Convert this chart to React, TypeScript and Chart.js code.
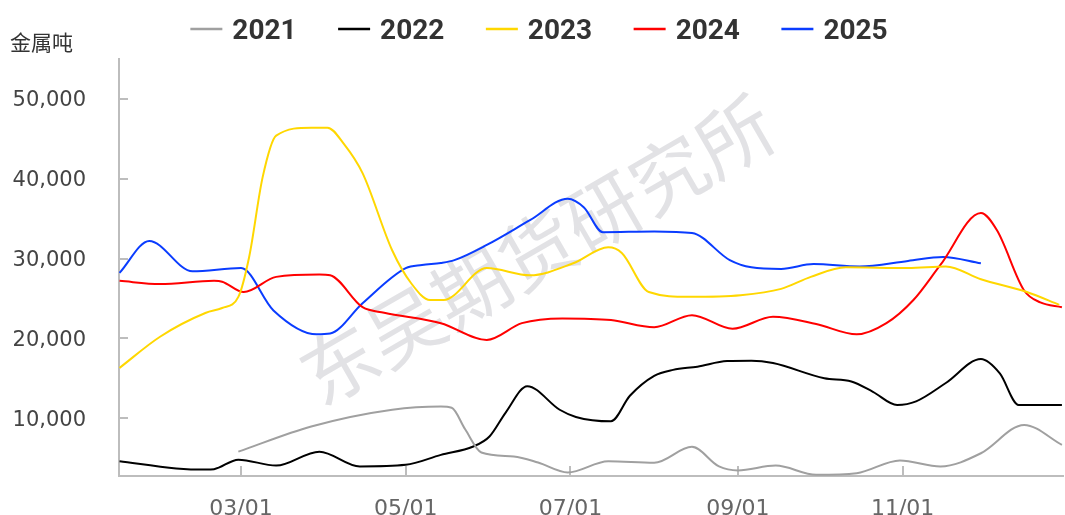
import React, { useEffect, useRef } from 'react';
import { Chart, registerables } from 'chart.js';

Chart.register(...registerables);

// ---- data ----
const tickLabels = ['03/01', '05/01', '07/01', '09/01', '11/01'];
const yTickValues = [10000, 20000, 30000, 40000, 50000];
const seriesNames = ['2021', '2022', '2023', '2024', '2025'];

// x values are day-of-year (0 = Jan 1)
const days2021 = [58, 85, 115, 133, 137, 142, 148, 160, 169, 180, 195, 212, 226, 236, 243, 257, 272, 287, 303, 318, 333, 349, 363];
const vals2021 = [5800, 8950, 11050, 11450, 11300, 8600, 5700, 5200, 4450, 3200, 4600, 4400, 6400, 3950, 3450, 4050, 2900, 3100, 4700, 3950, 5600, 9150, 6650];

const days2022 = [14, 35, 46, 49, 58, 72, 88, 103, 120, 133, 145, 151, 157, 165, 177, 183, 196, 203, 212, 219, 228, 239, 248, 256, 275, 285, 293, 302, 309, 320, 333, 340, 347, 363];
const vals2022 = [4600, 3700, 3550, 3600, 4800, 4050, 5800, 3950, 4150, 5400, 6450, 7700, 10700, 14000, 11050, 10150, 9600, 12800, 15300, 16050, 16450, 17150, 17200, 16900, 15000, 14600, 13300, 11650, 12100, 14400, 17400, 15600, 11650, 11650];

const days2023 = [14, 29, 46, 52, 58, 62, 67, 72, 85, 91, 97, 104, 115, 122, 129, 134, 150, 166, 182, 195, 200, 210, 225, 244, 259, 270, 283, 306, 320, 333, 350, 362];
const vals2023 = [16300, 20200, 23200, 23800, 25200, 30200, 40200, 45400, 46400, 46400, 44400, 40700, 31000, 26900, 24800, 24800, 28800, 27900, 29400, 31400, 30700, 25800, 25200, 25400, 26200, 27700, 28900, 28800, 29000, 27400, 25800, 24200];

const days2024 = [14, 29, 49, 52, 60, 72, 88, 92, 104, 112, 133, 150, 163, 178, 196, 212, 226, 241, 256, 272, 287, 298, 308, 318, 333, 339, 349, 355, 363];
const vals2024 = [27200, 26800, 27200, 27100, 25800, 27700, 28000, 27900, 23900, 23200, 21900, 19800, 21900, 22500, 22300, 21400, 22900, 21200, 22700, 21800, 20500, 21900, 24800, 29200, 35700, 33500, 26000, 24500, 23900];

const days2025 = [14, 25, 41, 59, 71, 87, 92, 104, 120, 126, 133, 138, 150, 166, 180, 186, 193, 212, 226, 240, 248, 259, 271, 288, 306, 319, 333];
const vals2025 = [28200, 32200, 28400, 28800, 23500, 20500, 20600, 24400, 28800, 29200, 29450, 29800, 31700, 34800, 37500, 36400, 33300, 33400, 33200, 29800, 28900, 28700, 29300, 29000, 29700, 30200, 29400];

const seriesDays = [days2021, days2022, days2023, days2024, days2025];
const seriesVals = [vals2021, vals2022, vals2023, vals2024, vals2025];

// ---- styles ----
const seriesColors = ['#a0a0a0', '#000000', '#ffd700', '#ff0000', '#0a3cff'];
const axisColor = '#bdbdbd';

const monthStart = [0, 31, 59, 90, 120, 151, 181, 212, 243, 273, 304, 334];
function dayOfYear(label: string): number {
  const [m, d] = label.split('/').map(Number);
  return monthStart[m - 1] + d - 1;
}

const decorPlugin = {
  id: 'decor',
  beforeDatasetsDraw(chart: any) {
    const { ctx, chartArea, scales } = chart;
    // watermark
    ctx.save();
    ctx.translate(537, 250);
    ctx.rotate((-30 * Math.PI) / 180);
    ctx.font = '76px "Noto Sans CJK SC"';
    ctx.fillStyle = '#e2e2e5';
    ctx.textAlign = 'center';
    ctx.textBaseline = 'middle';
    ctx.fillText('东吴期货研究所', 0, 0);
    ctx.restore();

    // inner tick marks
    ctx.save();
    ctx.strokeStyle = axisColor;
    ctx.lineWidth = 2;
    ctx.beginPath();
    scales.y.ticks.forEach((t: any) => {
      const y = Math.round(scales.y.getPixelForValue(t.value));
      ctx.moveTo(chartArea.left, y);
      ctx.lineTo(chartArea.left + 9, y);
    });
    scales.x.ticks.forEach((t: any) => {
      const x = Math.round(scales.x.getPixelForValue(t.value));
      ctx.moveTo(x, chartArea.bottom);
      ctx.lineTo(x, chartArea.bottom - 10);
    });
    ctx.stroke();
    ctx.restore();
  },
  afterDraw(chart: any) {
    const { ctx } = chart;
    ctx.save();
    // unit label
    ctx.font = '21px "Noto Sans CJK SC"';
    ctx.fillStyle = '#333';
    ctx.textAlign = 'left';
    ctx.textBaseline = 'middle';
    ctx.fillText('金属吨', 10, 42.5);

    // legend
    const sets = chart.data.datasets;
    ctx.font = 'bold 28px Roboto';
    const lineW = 32;
    const textGap = 10;
    const itemGap = 41.5;
    const widths = sets.map((d: any) => ctx.measureText(d.label).width);
    const total = widths.reduce((a: number, w: number) => a + lineW + textGap + w, 0) + itemGap * (sets.length - 1);
    let x = 539 - total / 2;
    ctx.textBaseline = 'alphabetic';
    sets.forEach((d: any, i: number) => {
      ctx.strokeStyle = d.borderColor;
      ctx.lineWidth = 2.5;
      ctx.beginPath();
      ctx.moveTo(x, 29);
      ctx.lineTo(x + lineW, 29);
      ctx.stroke();
      ctx.fillStyle = '#333';
      ctx.fillText(d.label, x + lineW + textGap, 38.5);
      x += lineW + textGap + widths[i] + itemGap;
    });
    ctx.restore();
  },
};

export default function App() {
  const ref = useRef<HTMLCanvasElement>(null);

  useEffect(() => {
    if (!ref.current) return;
    const datasets = seriesNames.map((name, i) => ({
      label: name,
      data: seriesDays[i].map((d, j) => ({ x: d, y: seriesVals[i][j] })),
      borderColor: seriesColors[i],
      backgroundColor: seriesColors[i],
      borderWidth: 2,
      pointRadius: 0,
      cubicInterpolationMode: 'monotone' as const,
      fill: false,
    }));

    const chart = new Chart(ref.current, {
      type: 'line',
      data: { datasets },
      plugins: [decorPlugin],
      options: {
        responsive: false,
        animation: false,
        devicePixelRatio: 1,
        layout: { padding: { top: 59, left: 0, right: 2, bottom: 0 } },
        plugins: {
          legend: { display: false },
          tooltip: { enabled: false },
        },
        scales: {
          x: {
            type: 'linear',
            min: 13.8,
            max: 363.4,
            grid: { display: false },
            border: { display: true, color: axisColor, width: 2 },
            afterBuildTicks: (s: any) => {
              s.ticks = tickLabels.map((l) => ({ value: dayOfYear(l) }));
            },
            afterFit: (s: any) => {
              s.height = 39;
              s.paddingLeft = 0;
              s.paddingRight = 0;
            },
            ticks: {
              autoSkip: false,
              maxRotation: 0,
              padding: 12.5,
              color: '#666',
              font: { family: '"DejaVu Sans"', size: 22 },
              callback: (_v: any, i: number) => tickLabels[i],
            },
          },
          y: {
            type: 'linear',
            min: 2750,
            max: 55000,
            grid: { display: false },
            border: { display: true, color: axisColor, width: 2 },
            afterBuildTicks: (s: any) => {
              s.ticks = yTickValues.map((v) => ({ value: v }));
            },
            afterFit: (s: any) => {
              s.width = 119;
              s.paddingTop = 0;
              s.paddingBottom = 0;
            },
            ticks: {
              padding: 25,
              labelOffset: 2,
              color: '#444',
              font: { family: '"DejaVu Sans"', size: 21 },
              callback: (v: any) => Number(v).toLocaleString('en-US'),
            },
          },
        },
      } as any,
    });
    return () => chart.destroy();
  }, []);

  return (
    <div style={{ position: 'absolute', left: 0, top: 0, width: 1065, height: 515, background: '#fff' }}>
      <canvas ref={ref} width={1065} height={515} style={{ display: 'block', width: 1065, height: 515 }} />
    </div>
  );
}
